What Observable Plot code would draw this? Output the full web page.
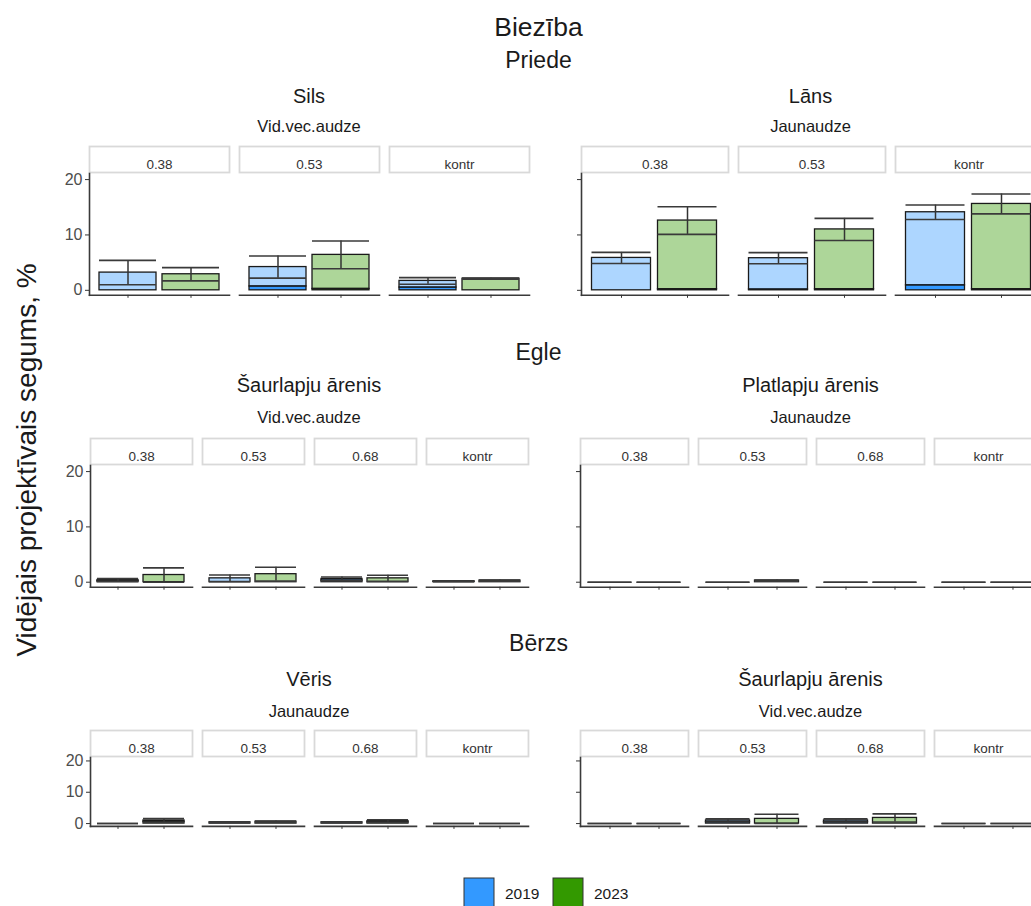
<!DOCTYPE html>
<html>
<head>
<meta charset="utf-8">
<script src="https://cdn.jsdelivr.net/npm/d3@7"></script>
<script src="https://cdn.jsdelivr.net/npm/@observablehq/plot@0.6"></script>
<style>
  html, body { margin: 0; padding: 0; background: #fff; overflow: hidden; width: 1031px; height: 906px; }
  #root { position: relative; width: 1031px; height: 906px; overflow: hidden; font-family: "Liberation Sans", Arial, sans-serif; }
  #root svg { position: absolute; overflow: visible; }
</style>
</head>
<body>
<div id="root"></div>
<script>
// ---------- data ----------
const years = ["2019", "2023"];
const yearColors = ["#3399FF", "#339900"];
const yTicks = [0, 10, 20];

const mainTitle = "Biezība";
const yLabel = "Vidējais projektīvais segums, %";

const species = ["Priede", "Egle", "Bērzs"];
const habitatLeft = ["Sils", "Šaurlapju ārenis", "Vēris"];
const ageLeft = ["Vid.vec.audze", "Vid.vec.audze", "Jaunaudze"];
const habitatRight = ["Lāns", "Platlapju ārenis", "Šaurlapju ārenis"];
const ageRight = ["Jaunaudze", "Jaunaudze", "Vid.vec.audze"];

const levels3 = ["0.38", "0.53", "kontr"];
const levels4 = ["0.38", "0.53", "0.68", "kontr"];

// values per level: [2019, 2023]; mean = bar top, se = error half-width,
// base = lower (full colour) stacked segment
const silsMean = [[3.2, 2.9], [4.2, 6.4], [1.7, 2.1]];
const silsSE   = [[2.2, 1.2], [2.0, 2.5], [0.6, 0.1]];
const silsBase = [[0, 0], [0.7, 0.25], [0.5, 0]];

const lansMean = [[5.85, 12.6], [5.8, 11.0], [14.1, 15.6]];
const lansSE   = [[1.0, 2.5], [1.0, 2.0], [1.3, 1.8]];
const lansBase = [[0, 0.2], [0.15, 0.2], [0.9, 0.2]];

const egleSaurMean = [[0.4, 1.3], [0.7, 1.45], [0.6, 0.7], [0.15, 0.3]];
const egleSaurSE   = [[0.25, 1.3], [0.6, 1.25], [0.35, 0.55], [0.05, 0.1]];
const egleSaurBase = [[0.2, 0], [0, 0], [0.3, 0], [0.1, 0.3]];

const eglePlatMean = [[0, 0], [0, 0.3], [0, 0], [0, 0]];
const eglePlatSE   = [[0, 0], [0, 0.1], [0, 0], [0, 0]];
const eglePlatBase = [[0, 0], [0, 0.3], [0, 0], [0, 0]];

const berzsVerisMean = [[0, 1.0], [0.4, 0.6], [0.4, 0.8], [0, 0]];
const berzsVerisSE   = [[0, 0.6], [0.1, 0.2], [0.1, 0.4], [0, 0]];
const berzsVerisBase = [[0, 0.6], [0.4, 0.6], [0.4, 0.4], [0, 0]];

const berzsSaurMean = [[0, 0], [1.0, 1.5], [1.0, 1.8], [0, 0]];
const berzsSaurSE   = [[0, 0], [0.5, 1.5], [0.5, 1.3], [0, 0]];
const berzsSaurBase = [[0, 0], [0.5, 0], [0.5, 0], [0, 0]];

// ---------- helpers ----------
const FONT = '"Liberation Sans", Arial, sans-serif';
function buildRows(levels, mean, se, base) {
  const rows = [];
  levels.forEach((lv, i) => years.forEach((yr, j) => rows.push({
    level: lv, year: yr, mean: mean[i][j], se: se[i][j], base: base[i][j]
  })));
  return rows;
}

const panels = [
  {r: 0, c: 0, levels: levels3, rows: buildRows(levels3, silsMean, silsSE, silsBase)},
  {r: 0, c: 1, levels: levels3, rows: buildRows(levels3, lansMean, lansSE, lansBase)},
  {r: 1, c: 0, levels: levels4, rows: buildRows(levels4, egleSaurMean, egleSaurSE, egleSaurBase)},
  {r: 1, c: 1, levels: levels4, rows: buildRows(levels4, eglePlatMean, eglePlatSE, eglePlatBase)},
  {r: 2, c: 0, levels: levels4, rows: buildRows(levels4, berzsVerisMean, berzsVerisSE, berzsVerisBase)},
  {r: 2, c: 1, levels: levels4, rows: buildRows(levels4, berzsSaurMean, berzsSaurSE, berzsSaurBase)}
];

// layout
const rowPlotTop = [172.9, 464.6, 757.3];
const rowPlotH = [121.8, 121.7, 68.9];
const cols = [
  {svgLeft: 0, marginLeft: 89, plotW: 440, labels: true},
  {svgLeft: 540, marginLeft: 39.5, plotW: 463, labels: false}
];
const mT = 30, mB = 14, gap = 10.3;
const root = document.getElementById("root");

panels.forEach(p => {
  const col = cols[p.c];
  const plotH = rowPlotH[p.r];
  const n = p.levels.length;
  const step = (col.plotW + gap) / n;
  const chart = Plot.plot({
    width: col.marginLeft + col.plotW + 2,
    height: mT + plotH + mB,
    marginLeft: col.marginLeft, marginRight: 2, marginTop: mT, marginBottom: mB,
    style: {fontFamily: FONT, background: "transparent", overflow: "visible"},
    fx: {domain: p.levels, paddingInner: gap / step, paddingOuter: 0, axis: null, label: null},
    x: {domain: years, paddingInner: 0.1, paddingOuter: 0.15},
    y: {domain: [-0.9, 21.1]},
    color: {domain: years, range: yearColors},
    marks: [
      // facet strips
      Plot.frame({fill: "white", stroke: "#d9d9d9", strokeWidth: 1.8, insetTop: -27, insetBottom: plotH + 1}),
      Plot.text(p.levels, {fx: d => d, text: d => d, frameAnchor: "top", dy: -14, fontSize: 13.5, fill: "#333"}),
      // axes
      Plot.frame({anchor: "bottom", stroke: "#3a3a3a", strokeWidth: 1.6}),
      Plot.frame({anchor: "left", facetAnchor: "left", stroke: "#3a3a3a", strokeWidth: 1.6}),
      Plot.axisX({tickSize: 3, tickFormat: () => "", label: null, stroke: "#333"}),
      Plot.axisY({ticks: yTicks, tickSize: 4, tickPadding: 3, label: null, fontSize: 16,
        stroke: "#333", fill: "#4d4d4d", tickFormat: col.labels ? (d => String(d)) : (() => "")}),
      // stacked bars: full-colour lower part, translucent upper part
      Plot.rectY(p.rows.filter(d => d.base > 0), {fx: "level", x: "year", y1: 0, y2: "base",
        fill: "year", stroke: "#1a1a1a", strokeWidth: 1.3, inset: 0}),
      Plot.rectY(p.rows.filter(d => d.mean > d.base), {fx: "level", x: "year", y1: "base", y2: "mean",
        fill: "year", fillOpacity: 0.4, stroke: "#1a1a1a", strokeWidth: 1.3, inset: 0}),
      // error bars
      Plot.ruleX(p.rows, {fx: "level", x: "year", y1: d => d.mean - d.se, y2: d => d.mean + d.se,
        stroke: "#333", strokeWidth: 1.5}),
      Plot.tickY(p.rows, {fx: "level", x: "year", y: d => d.mean + d.se, stroke: "#3a3a3a", strokeWidth: 1.6}),
      Plot.tickY(p.rows, {fx: "level", x: "year", y: d => d.mean - d.se, stroke: "#3a3a3a", strokeWidth: 1.6})
    ]
  });
  chart.style.left = col.svgLeft + "px";
  chart.style.top = (rowPlotTop[p.r] - mT) + "px";
  root.appendChild(chart);
});

// ---------- titles overlay ----------
const svg = d3.select(root).append("svg")
  .attr("width", 1031).attr("height", 906)
  .style("left", "0px").style("top", "0px")
  .style("font-family", FONT);

const centerAll = 538.5;
const centerL = 309, centerR = 810.5;
function txt(x, y, s, size, fill, anchor) {
  svg.append("text").attr("x", x).attr("y", y)
    .attr("text-anchor", anchor || "middle")
    .attr("font-size", size).attr("fill", fill || "#1a1a1a").text(s);
}
txt(centerAll, 36, mainTitle, 26.5);
const speciesBase = [68, 360, 651];
const habBase = [103, 392, 686];
const ageBase = [132, 423, 717];
species.forEach((s, i) => {
  txt(centerAll, speciesBase[i], s, 23);
  txt(centerL, habBase[i], habitatLeft[i], 20);
  txt(centerR, habBase[i], habitatRight[i], 20);
  txt(centerL, ageBase[i], ageLeft[i], 16.5);
  txt(centerR, ageBase[i], ageRight[i], 16.5);
});
svg.append("text")
  .attr("transform", "translate(36,460) rotate(-90)")
  .attr("text-anchor", "middle").attr("font-size", 28).attr("fill", "#1a1a1a")
  .text(yLabel);

// legend
const legX = [464, 553];
years.forEach((yr, i) => {
  svg.append("rect").attr("x", legX[i]).attr("y", 878).attr("width", 30).attr("height", 30)
    .attr("fill", yearColors[i]).attr("stroke", "#333").attr("stroke-width", 1);
  txt(legX[i] + 41, 899, yr, 15.5, "#1a1a1a", "start");
});
</script>
</body>
</html>
